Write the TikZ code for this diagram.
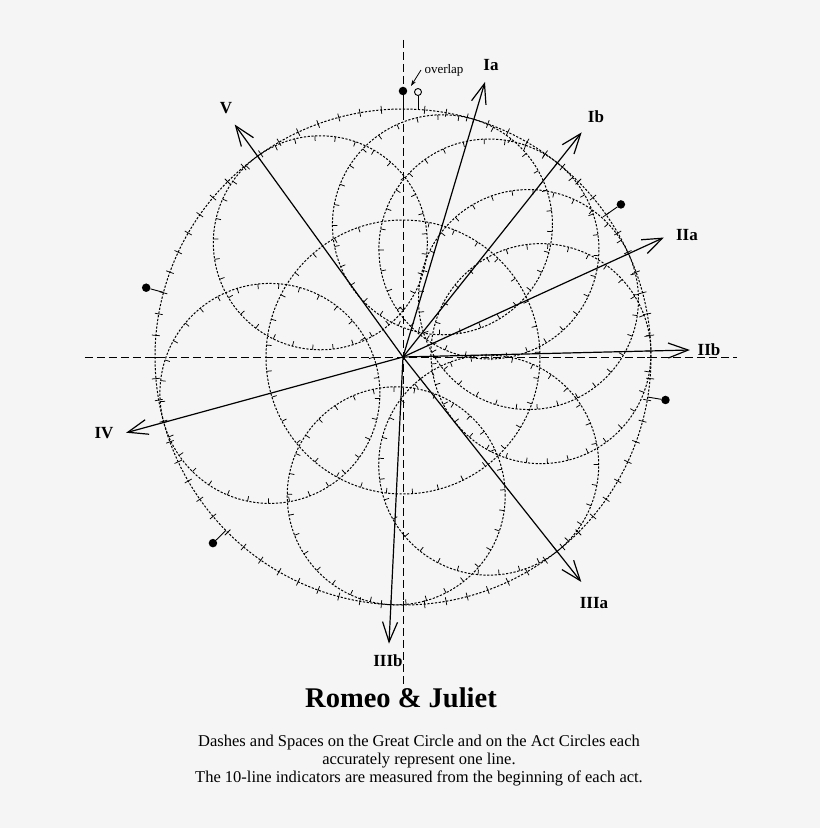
\documentclass[tikz,border=0pt]{standalone}
\usepackage{fontspec}
\setmainfont{Liberation Serif}
\usetikzlibrary{arrows.meta,calc}
\definecolor{bgcol}{RGB}{245,245,245}
\begin{document}
\begin{tikzpicture}[x=1pt,y=1pt]
\tikzset{
  dotline/.style={line width=1pt, dash pattern=on 2.2pt off 1.6pt},
  axis line/.style={line width=0.9pt, dash pattern=on 8pt off 4pt},
  tenmark/.style={line width=0.75pt},
  act arrow/.style={line width=1.2pt, -{Straight Barb[length=20pt,width=15pt,line width=1.2pt]}},
  act label/.style={font=\fontsize{17}{17}\selectfont\bfseries},
  stem dot/.style={circle, fill=black, inner sep=0pt, minimum size=8.5pt}
}
%
\fill[bgcol] (-403,-471) rectangle (417,357);
\useasboundingbox (-403,-471) rectangle (417,357);
\coordinate (O) at (0,0);

% axes
\coordinate (axW) at (-318,0);
\coordinate (axE) at (334,0);
\coordinate (axN) at (0,317);
\coordinate (axS) at (0,-328);
\draw[axis line] (axW) -- (axE);
\draw[axis line] (axN) -- (axS);

% great circle
\draw[dotline] (O) circle (248);
\foreach \t in {0,5,...,355}
  \draw[tenmark] ({90-\t}:244) -- ({90-\t}:252);

% middle circle
\draw[dotline] (O) circle (137);
\foreach \t in {0,11,...,350}
  \draw[tenmark] ({90-\t}:137) -- ({90-\t}:132);

% act circles
\foreach \ang/\r in {73.4/110, 51.5/110, 24.6/110, 1.4/110, -51.6/110, -92.8/109, 195.3/110, 125.9/107}{
  \begin{scope}[shift={(\ang:{248-\r})}]
    \draw[dotline] (0,0) circle (\r);
    \foreach \t in {0,11,...,355}
      \draw[tenmark] ({\ang-\t}:\r) -- ({\ang-\t}:{\r-5});
  \end{scope}
}

% act boundaries
\foreach \ang [count=\i] in {90,35,-9.3,-135.6,164.9}{
  \node[stem dot] (bd\i) at (\ang:266) {};
  \coordinate (bs\i) at (\ang:248);
  \draw[line width=0.9pt] (bd\i) -- (bs\i);
}
\node[circle, draw, fill=bgcol, line width=0.9pt, inner sep=0pt, minimum size=7pt] (ovl) at (15,265) {};
\coordinate (ovs) at (15,247.5);
\draw[line width=0.9pt] (ovl) -- (ovs);
\node[font=\fontsize{13}{13}\selectfont] (ovtext) at (41,287) {overlap};
\coordinate (ovarr) at (8,271);
\draw[line width=0.8pt, -{Stealth[length=6pt,width=4pt]}] (ovtext.west) -- (ovarr);

% arrows
\foreach \lbl/\ang/\lx/\ly in {Ia/73.4/88/292, Ib/51.5/193/240, IIa/24.6/284/122, IIb/1.4/306/7, IIIa/-51.6/191/-246, IIIb/-92.8/-15/-304, IV/195.3/-299/-76, V/125.9/-177/249}{
  \coordinate (tip\lbl) at (\ang:287);
  \node[act label] (lab\lbl) at (\lx,\ly) {\lbl};
  \draw[act arrow] (O) -- (tip\lbl);
}

\node[font=\fontsize{28.5}{28.5}\selectfont\bfseries] (title) at (-2,-341) {Romeo \& Juliet};
\node[font=\fontsize{16.5}{18}\selectfont, align=center] (caption) at (16,-404)
  {Dashes and Spaces on the Great Circle and on the Act Circles each\\
   accurately represent one line.\\
   The 10-line indicators are measured from the beginning of each act.};
\end{tikzpicture}
\end{document}
